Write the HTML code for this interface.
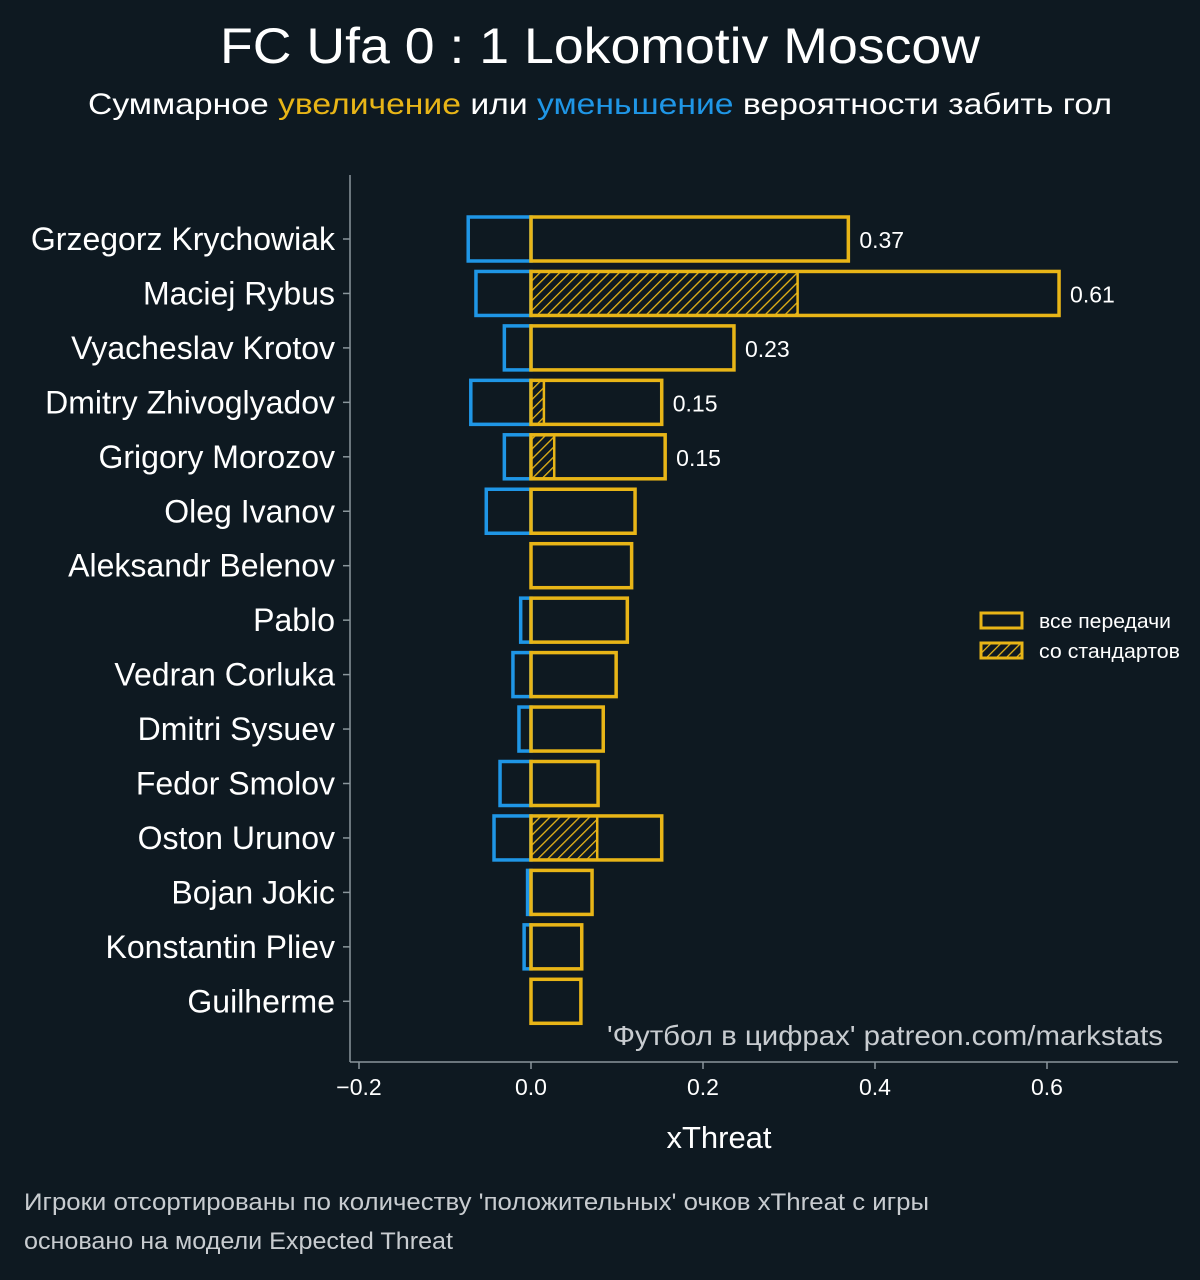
<!DOCTYPE html>
<html><head><meta charset="utf-8"><style>
body{margin:0;background:#0e1921;}
svg text{font-family:"Liberation Sans","DejaVu Sans",sans-serif;}
</style></head><body>
<svg id="chart" width="1200" height="1275" viewBox="0 0 1200 1275">
<defs>
<pattern id="hatch" patternUnits="userSpaceOnUse" width="7" height="7" patternTransform="rotate(45)">
<rect width="7" height="7" fill="#0e1921"/><line x1="0" y1="0" x2="0" y2="7" stroke="#e8b517" stroke-width="2.6"/>
</pattern>
</defs>
<rect width="1200" height="1275" fill="#0e1921"/>
<text x="600" y="63" text-anchor="middle" font-size="50" fill="#fff" textLength="760" lengthAdjust="spacingAndGlyphs">FC Ufa 0 : 1 Lokomotiv Moscow</text>
<text x="600" y="114" text-anchor="middle" font-size="30" fill="#fff" textLength="1024" lengthAdjust="spacingAndGlyphs">Суммарное <tspan fill="#e8b517">увеличение</tspan> или <tspan fill="#1f96e6">уменьшение</tspan> вероятности забить гол</text>
<g id="plot"></g>
<g>
<rect x="981" y="613" width="41" height="15" fill="none" stroke="#e8b517" stroke-width="3"/>
<text x="1039" y="628" font-size="20" fill="#fff" textLength="132" lengthAdjust="spacingAndGlyphs">все передачи</text>
<rect x="981" y="643" width="41" height="15" fill="url(#hatch)" stroke="#e8b517" stroke-width="3"/>
<text x="1039" y="658" font-size="20" fill="#fff" textLength="141" lengthAdjust="spacingAndGlyphs">со стандартов</text>
</g>
<text x="1163" y="1045" text-anchor="end" font-size="28" fill="#c8ccd0" textLength="556" lengthAdjust="spacingAndGlyphs">'Футбол в цифрах' patreon.com/markstats</text>
<text x="719" y="1148" text-anchor="middle" font-size="31" fill="#fff">xThreat</text>
<text x="24" y="1210" font-size="24" fill="#c8ccd0" textLength="905" lengthAdjust="spacingAndGlyphs">Игроки отсортированы по количеству 'положительных' очков xThreat с игры</text>
<text x="24" y="1249" font-size="24" fill="#c8ccd0" textLength="429" lengthAdjust="spacingAndGlyphs">основано на модели Expected Threat</text>
</svg>
<script>
const players=["Grzegorz Krychowiak","Maciej Rybus","Vyacheslav Krotov","Dmitry Zhivoglyadov","Grigory Morozov","Oleg Ivanov","Aleksandr Belenov","Pablo","Vedran Corluka","Dmitri Sysuev","Fedor Smolov","Oston Urunov","Bojan Jokic","Konstantin Pliev","Guilherme"];
const positive=[0.369,0.614,0.236,0.152,0.156,0.121,0.117,0.112,0.099,0.084,0.078,0.152,0.071,0.059,0.058];
const setPiece=[0,0.310,0,0.015,0.027,0,0,0,0,0,0,0.077,0,0,0];
const negative=[-0.073,-0.064,-0.031,-0.070,-0.031,-0.052,0,-0.012,-0.021,-0.014,-0.036,-0.043,-0.004,-0.008,0];
const labeled=[0.37,0.61,0.23,0.15,0.15,null,null,null,null,null,null,null,null,null,null];
const ticks=[-0.2,0,0.2,0.4,0.6];
const tickLabels=["\u22120.2","0.0","0.2","0.4","0.6"];

const ns="http://www.w3.org/2000/svg";
const g=document.getElementById("plot");
const X=v=>531+v*860;
const Y=i=>239+i*54.45;
const H=44;
function el(t,a,p){const e=document.createElementNS(ns,t);for(const k in a)e.setAttribute(k,a[k]);(p||g).appendChild(e);return e;}
let ax=el("line",{x1:350,y1:175,x2:350,y2:1062,stroke:"#8a969c","stroke-width":1.5});


let bx=el("line",{x1:350,y1:1062,x2:1178,y2:1062,stroke:"#8a969c","stroke-width":1.5});


ticks.forEach((t,k)=>{
  const tl=el("line",{x1:X(t),x2:X(t),y1:1062,y2:1069,stroke:"#8a969c","stroke-width":1.5});
  
  
  const tx=el("text",{x:X(t),y:1095,"text-anchor":"middle","font-size":23,fill:"#fff"});
  tx.textContent=tickLabels[k];
  
  
});
players.forEach((p,i)=>{
  const y=Y(i);
  const tk=el("line",{x1:343,x2:350,y1:y,y2:y,stroke:"#8a969c","stroke-width":1.5});
  
  
  const lb=el("text",{x:335,y:y+11,"text-anchor":"end","font-size":32,fill:"#fff"});
  lb.textContent=p;
  
  
  if(negative[i]<0){
    const b=el("rect",{x:X(negative[i]),y:y-H/2,width:X(0)-X(negative[i]),height:H,fill:"none",stroke:"#1f96e6","stroke-width":3.5});
    
    
  }
  if(setPiece[i]>0){
    const h=el("rect",{x:X(0),y:y-H/2,width:X(setPiece[i])-X(0),height:H,fill:"url(#hatch)",stroke:"#e8b517","stroke-width":2.5});
    
    
  }
  const b=el("rect",{x:X(0),y:y-H/2,width:X(positive[i])-X(0),height:H,fill:"none",stroke:"#e8b517","stroke-width":3.5});
  
  
  if(labeled[i]!==null){
    const v=el("text",{x:X(positive[i])+11,y:y+9,"font-size":23,fill:"#fff"});
    v.textContent=labeled[i].toFixed(2);
    
    
  }
});
</script>
</body></html>
